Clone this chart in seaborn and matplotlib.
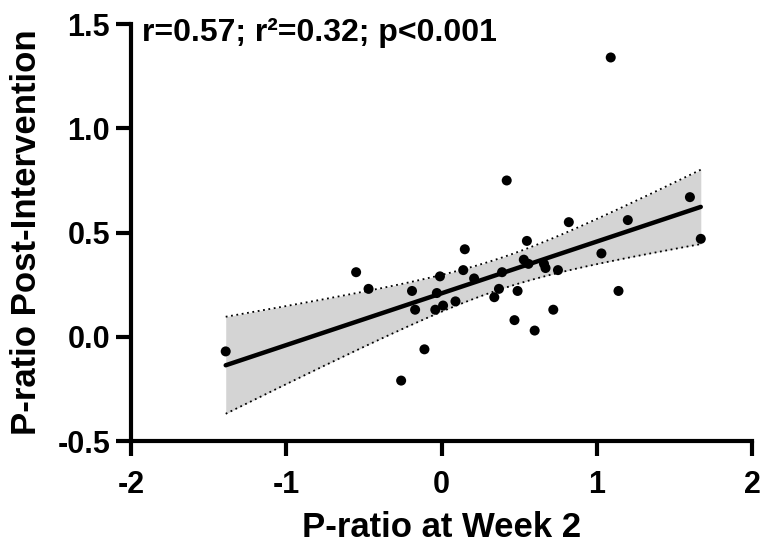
import numpy as np
import pandas as pd
import matplotlib
matplotlib.use("Agg")
import matplotlib.pyplot as plt
import seaborn as sns

# Data
week2 = [-1.39, -0.55, -0.47, -0.26, -0.19, -0.17, -0.11, -0.04, -0.03, -0.01,
         0.01, 0.09, 0.14, 0.15, 0.21, 0.34, 0.37, 0.39, 0.42, 0.47, 0.49,
         0.53, 0.55, 0.56, 0.60, 0.66, 0.67, 0.72, 0.75, 0.82, 1.03, 1.09,
         1.14, 1.20, 1.60, 1.67]
post = [-0.07, 0.31, 0.23, -0.21, 0.22, 0.13, -0.06, 0.13, 0.21, 0.29,
        0.15, 0.17, 0.32, 0.42, 0.28, 0.19, 0.23, 0.31, 0.75, 0.08, 0.22,
        0.37, 0.46, 0.35, 0.03, 0.35, 0.33, 0.13, 0.32, 0.55, 0.40, 1.34,
        0.22, 0.56, 0.67, 0.47]
x_ticks = [-2, -1, 0, 1, 2]
y_ticks = [-0.5, 0.0, 0.5, 1.0, 1.5]
x_tick_labels = ["-2", "-1", "0", "1", "2"]
y_tick_labels = ["-0.5", "0.0", "0.5", "1.0", "1.5"]
stats_text = "r=0.57; r\u00b2=0.32; p<0.001"

df = pd.DataFrame({"week2": week2, "post": post})

sns.set_theme(style="ticks")
plt.rcParams["font.family"] = ["Liberation Sans", "DejaVu Sans"]
plt.rcParams["font.weight"] = "bold"

fig = plt.figure(figsize=(7.63, 5.47), dpi=100)
ax = fig.add_axes([0.1717, 0.1937, 0.8139, 0.7622])

# Analytic 95% confidence band of the linear fit
x = np.asarray(week2)
y = np.asarray(post)
n = len(x)
slope, intercept = np.polyfit(x, y, 1)
xs = np.linspace(x.min(), x.max(), 200)
resid = y - (slope * x + intercept)
s_err = np.sqrt(np.sum(resid ** 2) / (n - 2))
t_val = 2.03
se_fit = s_err * np.sqrt(1.0 / n + (xs - x.mean()) ** 2 / np.sum((x - x.mean()) ** 2))
fit = slope * xs + intercept
lower = fit - t_val * se_fit
upper = fit + t_val * se_fit

ax.fill_between(xs, lower, upper, color="#d4d4d4", lw=0, zorder=1)
ax.plot(xs, lower, color="black", ls=(0, (1, 2)), lw=1.3, zorder=2)
ax.plot(xs, upper, color="black", ls=(0, (1, 2)), lw=1.3, zorder=2)

sns.regplot(data=df, x="week2", y="post", ax=ax, ci=None, truncate=True,
            scatter_kws=dict(s=52, color="black", alpha=1, edgecolor="none",
                             zorder=4, clip_on=False),
            line_kws=dict(color="black", lw=3.2, zorder=3))

ax.set_xlim(-2, 2)
ax.set_ylim(-0.5, 1.5)
ax.set_xticks(x_ticks)
ax.set_xticklabels(x_tick_labels)
ax.set_yticks(y_ticks)
ax.set_yticklabels(y_tick_labels)

sns.despine(ax=ax)
for side in ["left", "bottom"]:
    ax.spines[side].set_linewidth(3.0)
    ax.spines[side].set_color("black")
ax.tick_params(axis="both", which="major", length=11, width=3.0, color="black",
               labelsize=22, labelcolor="black")
ax.tick_params(axis="x", pad=10)
ax.tick_params(axis="y", pad=4)
for lab in ax.get_xticklabels() + ax.get_yticklabels():
    lab.set_fontweight("bold")

ax.set_xlabel("P-ratio at Week 2", fontsize=25, fontweight="bold", labelpad=8, color="black")
ax.set_ylabel("P-ratio Post-Intervention", fontsize=25, fontweight="bold", labelpad=10, color="black")

ax.text(0.018, 0.978, stats_text, transform=ax.transAxes, ha="left", va="center",
        fontsize=23, fontweight="bold", color="black")

fig.savefig("out.png", dpi=100)
